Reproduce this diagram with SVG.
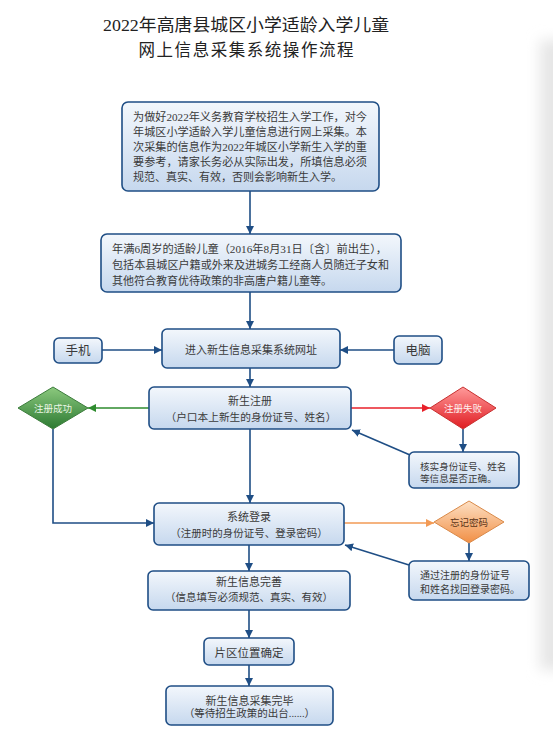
<svg xmlns="http://www.w3.org/2000/svg" width="553" height="753" viewBox="0 0 553 753">
<style>
.box{stroke:#1f4e85;stroke-width:1.6;fill:url(#gb)}
.t{font-family:"Liberation Serif","Noto Sans CJK SC",serif;fill:#3a3a3a;font-size:11px}
.c{text-anchor:middle}
.title{font-family:"Liberation Serif","Noto Sans CJK SC",serif;fill:#222;font-size:16.5px;text-anchor:middle}
.ln{fill:none;stroke:#1f4e85;stroke-width:1.6}
.dt{font-family:"Noto Sans CJK SC",sans-serif;font-size:9.5px;text-anchor:middle}
</style>
<defs>
<linearGradient id="gb" x1="0" y1="0" x2="0" y2="1">
<stop offset="0" stop-color="#f3f7fc"/>
<stop offset="1" stop-color="#c6d8ee"/>
</linearGradient>
<linearGradient id="gg" x1="0" y1="0" x2="0" y2="1">
<stop offset="0" stop-color="#8cc97e"/>
<stop offset="1" stop-color="#2c7a32"/>
</linearGradient>
<linearGradient id="gr" x1="0" y1="0" x2="0" y2="1">
<stop offset="0" stop-color="#ff9a9a"/>
<stop offset="1" stop-color="#e01c22"/>
</linearGradient>
<linearGradient id="go" x1="0" y1="0" x2="0" y2="1">
<stop offset="0" stop-color="#fde0c4"/>
<stop offset="1" stop-color="#f18f45"/>
</linearGradient>
<filter id="blur" x="-1" y="-0.2" width="3" height="1.4"><feGaussianBlur stdDeviation="7"/></filter>
<marker id="ab" viewBox="0 0 10 10" refX="10" refY="5" markerWidth="8" markerHeight="8" markerUnits="userSpaceOnUse" orient="auto"><path d="M0,0 L10,5 L0,10 z" fill="#1f4e85"/></marker>
<marker id="ag" viewBox="0 0 10 10" refX="10" refY="5" markerWidth="8" markerHeight="8" markerUnits="userSpaceOnUse" orient="auto"><path d="M0,0 L10,5 L0,10 z" fill="#2e8b2e"/></marker>
<marker id="ar" viewBox="0 0 10 10" refX="10" refY="5" markerWidth="8" markerHeight="8" markerUnits="userSpaceOnUse" orient="auto"><path d="M0,0 L10,5 L0,10 z" fill="#e8202a"/></marker>
<marker id="ao" viewBox="0 0 10 10" refX="10" refY="5" markerWidth="8" markerHeight="8" markerUnits="userSpaceOnUse" orient="auto"><path d="M0,0 L10,5 L0,10 z" fill="#f29a55"/></marker>
</defs>
<rect width="553" height="753" fill="#ffffff"/>
<rect x="540" y="40" width="40" height="630" fill="#e6e6e6" filter="url(#blur)"/>

<g id="title">
<text class="title" x="246" y="31" textLength="286" lengthAdjust="spacingAndGlyphs">2022年高唐县城区小学适龄入学儿童</text>
<text class="title" x="246" y="56" textLength="215" lengthAdjust="spacing">网上信息采集系统操作流程</text>
</g>

<g id="connectors">
<line class="ln" x1="250" y1="191" x2="250" y2="234" marker-end="url(#ab)"/>
<line class="ln" x1="250" y1="292" x2="250" y2="329" marker-end="url(#ab)"/>
<line class="ln" x1="102" y1="350" x2="162" y2="350" marker-end="url(#ab)"/>
<line class="ln" x1="394" y1="350" x2="340" y2="350" marker-end="url(#ab)"/>
<line class="ln" x1="250" y1="368" x2="250" y2="387" marker-end="url(#ab)"/>
<line x1="149" y1="408" x2="88" y2="408" stroke="#2e8b2e" stroke-width="1.6" marker-end="url(#ag)"/>
<line x1="351" y1="408" x2="430" y2="408" stroke="#e8202a" stroke-width="1.6" marker-end="url(#ar)"/>
<line class="ln" x1="463" y1="429" x2="463" y2="452" marker-end="url(#ab)"/>
<line class="ln" x1="410" y1="455" x2="352" y2="430" marker-end="url(#ab)"/>
<line class="ln" x1="250" y1="429" x2="250" y2="503" marker-end="url(#ab)"/>
<polyline class="ln" points="53,429 53,523 154,523" marker-end="url(#ab)"/>
<line x1="344" y1="523" x2="434" y2="523" stroke="#f29a55" stroke-width="1.6" marker-end="url(#ao)"/>
<line class="ln" x1="469" y1="543" x2="469" y2="561" marker-end="url(#ab)"/>
<line class="ln" x1="409" y1="565" x2="345" y2="545" marker-end="url(#ab)"/>
<line class="ln" x1="249" y1="545" x2="249" y2="571" marker-end="url(#ab)"/>
<line class="ln" x1="249" y1="610" x2="249" y2="638" marker-end="url(#ab)"/>
<line class="ln" x1="249" y1="665" x2="249" y2="686" marker-end="url(#ab)"/>
</g>

<g id="intro">
<rect class="box" x="122" y="102" width="257" height="89" rx="6"/>
<text class="t" x="133" y="121" textLength="234" lengthAdjust="spacingAndGlyphs">为做好2022年义务教育学校招生入学工作，对今</text>
<text class="t" x="133" y="136" textLength="234" lengthAdjust="spacingAndGlyphs">年城区小学适龄入学儿童信息进行网上采集。本</text>
<text class="t" x="133" y="151" textLength="234" lengthAdjust="spacingAndGlyphs">次采集的信息作为2022年城区小学新生入学的重</text>
<text class="t" x="133" y="165.5" textLength="234" lengthAdjust="spacingAndGlyphs">要参考，请家长务必从实际出发，所填信息必须</text>
<text class="t" x="133" y="180.5">规范、真实、有效，否则会影响新生入学。</text>
</g>

<g id="eligibility">
<rect class="box" x="101" y="234" width="300" height="58" rx="6"/>
<text class="t" x="112" y="253" textLength="275" lengthAdjust="spacingAndGlyphs">年满6周岁的适龄儿童（2016年8月31日〔含〕前出生），</text>
<text class="t" x="112" y="269" textLength="277" lengthAdjust="spacingAndGlyphs">包括本县城区户籍或外来及进城务工经商人员随迁子女和</text>
<text class="t" x="112" y="285">其他符合教育优待政策的非高唐户籍儿童等。</text>
</g>

<g id="phone">
<rect class="box" x="54" y="338" width="48" height="25" rx="5"/>
<text class="t c" x="78" y="355" style="font-size:12.5px">手机</text>
</g>

<g id="pc">
<rect class="box" x="394" y="336" width="48" height="28" rx="5"/>
<text class="t c" x="418" y="355" style="font-size:12.5px">电脑</text>
</g>

<g id="enter">
<rect class="box" x="162" y="329" width="178" height="39" rx="5"/>
<text class="t c" x="251" y="354">进入新生信息采集系统网址</text>
</g>

<g id="register">
<rect class="box" x="149" y="387" width="202" height="42" rx="5"/>
<text class="t c" x="250" y="405">新生注册</text>
<text class="t c" x="251" y="421" style="font-size:10.7px">（户口本上新生的身份证号、姓名）</text>
</g>

<g id="reg-ok">
<polygon points="53,387 88,408 53,429 18,408" fill="url(#gg)" stroke="#3d7d3d" stroke-width="1"/>
<text class="dt" x="53" y="411.5" fill="#eaf6e4">注册成功</text>
</g>

<g id="reg-fail">
<polygon points="463,387 496,408 463,429 430,408" fill="url(#gr)" stroke="#c83030" stroke-width="1"/>
<text class="dt" x="463" y="411.5" fill="#fff0f0">注册失败</text>
</g>

<g id="verify">
<rect class="box" x="409" y="452" width="110" height="36" rx="5"/>
<text class="t" x="420" y="469.5" style="font-size:9.6px">核实身份证号、姓名</text>
<text class="t" x="420" y="481.5" style="font-size:9.6px">等信息是否正确。</text>
</g>

<g id="login">
<rect class="box" x="154" y="503" width="190" height="42" rx="5"/>
<text class="t c" x="249" y="520.5">系统登录</text>
<text class="t c" x="249" y="536.5" style="font-size:10.5px">（注册时的身份证号、登录密码）</text>
</g>

<g id="forgot">
<polygon points="469,501 504,522 469,543 434,522" fill="url(#go)" stroke="#d98a4a" stroke-width="1"/>
<text class="dt" x="469" y="525.5" fill="#5a3418">忘记密码</text>
</g>

<g id="recover">
<rect class="box" x="409" y="561" width="120" height="39" rx="5"/>
<text class="t" x="420" y="579" style="font-size:10px">通过注册的身份证号</text>
<text class="t" x="420" y="592.5" style="font-size:10px">和姓名找回登录密码。</text>
</g>

<g id="complete">
<rect class="box" x="148" y="571" width="202" height="39" rx="5"/>
<text class="t c" x="249" y="585.5">新生信息完善</text>
<text class="t c" x="249" y="601" style="font-size:10.5px">（信息填写必须规范、真实、有效）</text>
</g>

<g id="zone">
<rect class="box" x="204" y="638" width="90" height="27" rx="5"/>
<text class="t c" x="249" y="656.5" style="font-size:11.5px">片区位置确定</text>
</g>

<g id="finish">
<rect class="box" x="166" y="686" width="167" height="39" rx="5"/>
<text class="t c" x="249.5" y="704.5">新生信息采集完毕</text>
<text class="t c" x="249.5" y="716.5" style="font-size:10.5px">（等待招生政策的出台......）</text>
</g>
</svg>
